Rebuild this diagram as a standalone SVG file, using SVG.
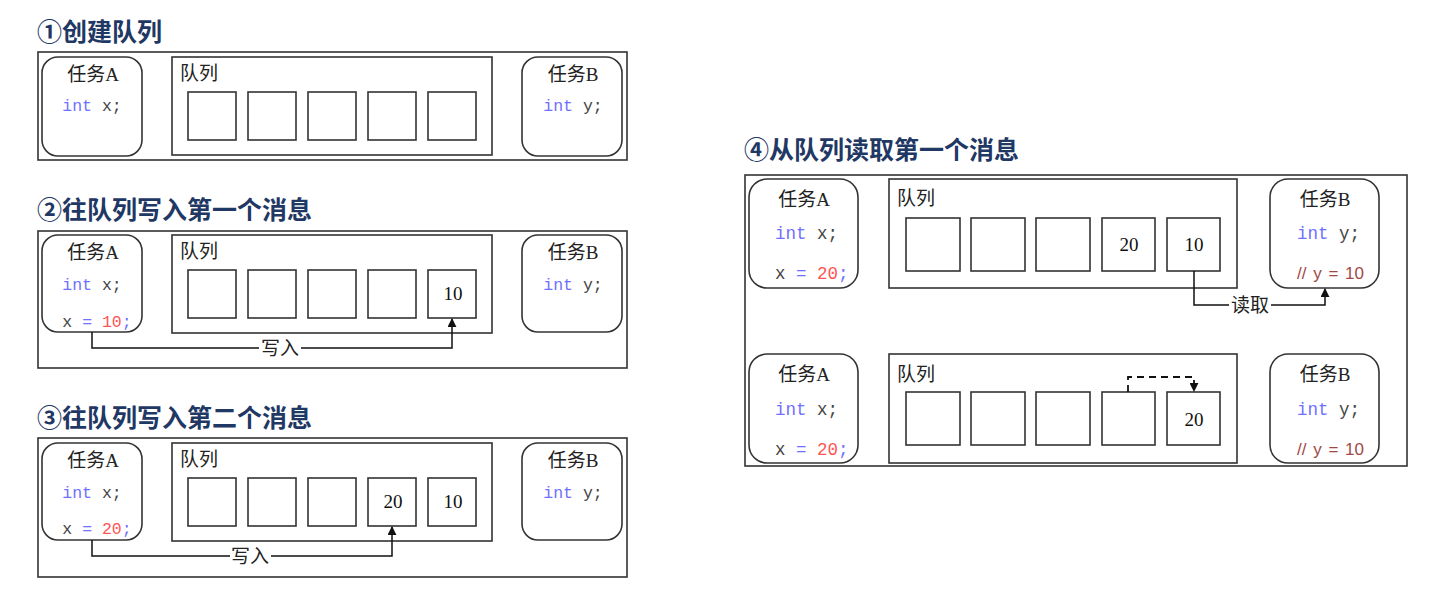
<svg xmlns="http://www.w3.org/2000/svg" width="1434" height="595" viewBox="0 0 1434 595">
<style>
.title{font-family:"Liberation Sans","Noto Sans CJK SC",sans-serif;font-size:25px;font-weight:bold;fill:#1f3864}
.frame{fill:none;stroke:#333;stroke-width:1.6}
.task{fill:#fff;stroke:#333;stroke-width:1.6}
.cell{fill:#fff;stroke:#333;stroke-width:1.6}
.lbl{font-family:"Liberation Serif","Noto Sans CJK SC",serif;font-size:19px;fill:#222}
.num{font-family:"Liberation Serif",serif;font-size:19px;fill:#111;text-anchor:middle}
.code{font-family:"Liberation Mono",monospace;font-size:16.5px;fill:#444}
.code4{font-size:17.5px}
.kw{fill:#7070ff}
.red{fill:#ff5555}
.cm{fill:#a04848;font-family:"Liberation Sans",sans-serif;font-size:17px;word-spacing:2px}
.wire{fill:none;stroke:#111;stroke-width:1.5}
.dash{fill:none;stroke:#111;stroke-width:1.8;stroke-dasharray:7,5}
.mid{text-anchor:middle}
</style>
<defs>
<marker id="ah" viewBox="0 0 10 10" refX="9" refY="5" markerWidth="9" markerHeight="9" orient="auto" markerUnits="userSpaceOnUse"><path d="M0,0 L10,5 L0,10 z" fill="#111"/></marker>
</defs>

<!-- Section 1 -->
<g id="s1">
<text class="title" x="37" y="41">①创建队列</text>
<rect class="frame" x="38" y="52" width="589" height="108"/>
<g id="s1-taskA"><rect class="task" x="42" y="57" width="100" height="99" rx="16"/>
<text class="lbl mid" x="93" y="81">任务A</text>
<text class="code mid" x="92" y="111"><tspan class="kw">int</tspan> x;</text></g>
<g id="s1-queue"><rect class="frame" x="172" y="57" width="320" height="98"/>
<text class="lbl" x="180" y="80">队列</text>
<rect class="cell" x="188" y="92" width="48" height="48"/><rect class="cell" x="248" y="92" width="48" height="48"/><rect class="cell" x="308" y="92" width="48" height="48"/><rect class="cell" x="368" y="92" width="48" height="48"/><rect class="cell" x="428" y="92" width="48" height="48"/></g>
<g id="s1-taskB"><rect class="task" x="522" y="57" width="100" height="99" rx="16"/>
<text class="lbl mid" x="573" y="81">任务B</text>
<text class="code mid" x="573" y="111"><tspan class="kw">int</tspan> y;</text></g>
</g>

<!-- Section 2 -->
<g id="s2">
<text class="title" x="37" y="219">②往队列写入第一个消息</text>
<rect class="frame" x="38" y="231" width="589" height="137"/>
<g id="s2-taskA"><rect class="task" x="42" y="235" width="100" height="97" rx="16"/>
<text class="lbl mid" x="93" y="259">任务A</text>
<text class="code mid" x="92" y="290"><tspan class="kw">int</tspan> x;</text>
<text class="code mid" x="97" y="327">x <tspan class="kw">=</tspan> <tspan class="red">10</tspan><tspan class="kw">;</tspan></text></g>
<g id="s2-queue"><rect class="frame" x="172" y="235" width="320" height="98"/>
<text class="lbl" x="180" y="258">队列</text>
<rect class="cell" x="188" y="270" width="48" height="48"/><rect class="cell" x="248" y="270" width="48" height="48"/><rect class="cell" x="308" y="270" width="48" height="48"/><rect class="cell" x="368" y="270" width="48" height="48"/><rect class="cell" x="428" y="270" width="48" height="48"/>
<text class="num" x="453" y="300">10</text></g>
<g id="s2-taskB"><rect class="task" x="522" y="235" width="100" height="97" rx="16"/>
<text class="lbl mid" x="573" y="259">任务B</text>
<text class="code mid" x="573" y="290"><tspan class="kw">int</tspan> y;</text></g>
</g>

<!-- Section 3 -->
<g id="s3">
<text class="title" x="37" y="427">③往队列写入第二个消息</text>
<rect class="frame" x="38" y="438" width="589" height="139"/>
<g id="s3-taskA"><rect class="task" x="42" y="443" width="100" height="97" rx="16"/>
<text class="lbl mid" x="93" y="467">任务A</text>
<text class="code mid" x="92" y="498"><tspan class="kw">int</tspan> x;</text>
<text class="code mid" x="97" y="534">x <tspan class="kw">=</tspan> <tspan class="red">20</tspan><tspan class="kw">;</tspan></text></g>
<g id="s3-queue"><rect class="frame" x="172" y="443" width="320" height="98"/>
<text class="lbl" x="180" y="466">队列</text>
<rect class="cell" x="188" y="478" width="48" height="48"/><rect class="cell" x="248" y="478" width="48" height="48"/><rect class="cell" x="308" y="478" width="48" height="48"/><rect class="cell" x="368" y="478" width="48" height="48"/><rect class="cell" x="428" y="478" width="48" height="48"/>
<text class="num" x="393" y="508">20</text><text class="num" x="453" y="508">10</text></g>
<g id="s3-taskB"><rect class="task" x="522" y="443" width="100" height="97" rx="16"/>
<text class="lbl mid" x="573" y="467">任务B</text>
<text class="code mid" x="573" y="498"><tspan class="kw">int</tspan> y;</text></g>
</g>

<!-- Section 4 -->
<g id="s4">
<text class="title" x="744" y="159">④从队列读取第一个消息</text>
<rect class="frame" x="745" y="175" width="662" height="291"/>
<g id="s4-taskA1"><rect class="task" x="749" y="179" width="109" height="109" rx="18"/>
<text class="lbl mid" x="804" y="206">任务A</text>
<text class="code code4" x="775" y="239"><tspan class="kw">int</tspan> x;</text>
<text class="code code4" x="775" y="279">x <tspan class="kw">=</tspan> <tspan class="red">20</tspan><tspan class="kw">;</tspan></text></g>
<g id="s4-queue1"><rect class="frame" x="889" y="179" width="348" height="109"/>
<text class="lbl" x="897" y="205">队列</text>
<rect class="cell" x="906" y="218" width="54" height="53"/><rect class="cell" x="971" y="218" width="54" height="53"/><rect class="cell" x="1036" y="218" width="54" height="53"/><rect class="cell" x="1102" y="218" width="53" height="53"/><rect class="cell" x="1167" y="218" width="53" height="53"/>
<text class="num" x="1129" y="251">20</text><text class="num" x="1194" y="251">10</text></g>
<g id="s4-taskB1"><rect class="task" x="1270" y="179" width="109" height="109" rx="18"/>
<text class="lbl mid" x="1325" y="206">任务B</text>
<text class="code code4" x="1297" y="239"><tspan class="kw">int</tspan> y;</text>
<text class="cm" x="1297" y="279">// y = 10</text></g>

<g id="s4-taskA2"><rect class="task" x="749" y="354" width="109" height="109" rx="18"/>
<text class="lbl mid" x="804" y="381">任务A</text>
<text class="code code4" x="775" y="415"><tspan class="kw">int</tspan> x;</text>
<text class="code code4" x="775" y="455">x <tspan class="kw">=</tspan> <tspan class="red">20</tspan><tspan class="kw">;</tspan></text></g>
<g id="s4-queue2"><rect class="frame" x="889" y="354" width="348" height="109"/>
<text class="lbl" x="897" y="381">队列</text>
<rect class="cell" x="906" y="392" width="54" height="53"/><rect class="cell" x="971" y="392" width="54" height="53"/><rect class="cell" x="1036" y="392" width="54" height="53"/><rect class="cell" x="1102" y="392" width="53" height="53"/><rect class="cell" x="1167" y="392" width="53" height="53"/>
<text class="num" x="1194" y="426">20</text></g>
<g id="s4-taskB2"><rect class="task" x="1270" y="354" width="109" height="109" rx="18"/>
<text class="lbl mid" x="1325" y="381">任务B</text>
<text class="code code4" x="1297" y="415"><tspan class="kw">int</tspan> y;</text>
<text class="cm" x="1297" y="455">// y = 10</text></g>
</g>

<!-- Connectors -->
<g id="connectors">
<path class="wire" d="M92,332 V348 H259 M301,348 H452 V319" marker-end="url(#ah)"/>
<text class="lbl mid" x="280" y="355">写入</text>
<path class="wire" d="M92,540 V556 H230 M271,556 H392 V527" marker-end="url(#ah)"/>
<text class="lbl mid" x="250" y="563">写入</text>
<path class="wire" d="M1194,271 V305 H1229 M1271,305 H1325 V289" marker-end="url(#ah)"/>
<text class="lbl mid" x="1250" y="312">读取</text>
<path class="dash" d="M1128,392 V377 H1194 V391" marker-end="url(#ah)"/>
</g>
</svg>
